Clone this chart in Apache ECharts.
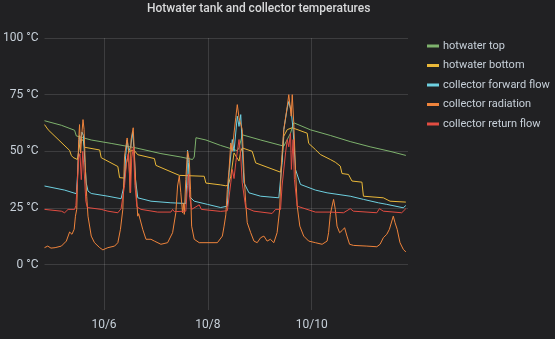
<!DOCTYPE html>
<html>
<head>
<meta charset="utf-8">
<script src="https://cdn.jsdelivr.net/npm/echarts@6/dist/echarts.min.js"></script>
<style>
  html, body { margin: 0; padding: 0; background: #212123; }
  #chart { width: 555px; height: 339px; }
</style>
</head>
<body>
<div id="chart"></div>
<script>
// Time is given in hours since 10/4 00:00, temperatures in °C.
const seriesNames = ['hotwater top', 'hotwater bottom', 'collector forward flow', 'collector radiation', 'collector return flow'];
const yTicks = [0, 25, 50, 75, 100];
const xTicks = [48, 96, 144];          // 10/6, 10/8, 10/10 at midnight
const timeRange = [20.5, 188.5];

const hotwaterTop = [
  [20.5,63.5],[28.3,61.5],[34.4,59.3],[35.2,56.8],[42.1,55.0],[51.3,53.5],[62.8,51.5],[74.3,49.0],
  [83.5,47.5],[88.9,46.4],[89.7,47.5],[90.5,56.0],[95.1,55.0],[101.9,52.6],[109.6,50.3],[110.4,51.5],
  [111.9,57.3],[120.4,55.0],[131.1,52.3],[131.9,53.0],[134.2,58.0],[135.7,62.6],[143.4,59.5],[152.6,57.0],
  [161.8,54.3],[171.0,52.0],[180.2,50.0],[187.5,48.2]
];

const hotwaterBottom = [
  [20.5,61.8],[22.2,59.5],[32.1,50.4],[32.9,48.2],[33.7,47.3],[35.7,46.4],[36.3,50.0],[37.1,55.0],
  [38.4,55.0],[39.0,51.8],[46.0,50.6],[46.7,47.2],[54.4,43.3],[55.2,38.4],[57.5,38.2],[58.2,44.0],
  [59.6,50.0],[60.5,49.5],[61.9,50.5],[63.6,48.5],[71.3,46.8],[72.0,43.8],[82.8,39.4],[94.3,39.0],
  [95.1,36.0],[101.9,35.2],[104.3,34.8],[105.4,35.0],[106.6,39.0],[108.1,49.3],[108.9,48.0],[110.4,45.7],
  [111.2,50.0],[111.9,51.5],[116.5,50.0],[118.1,44.9],[129.6,40.8],[130.3,46.0],[131.1,56.7],[132.7,59.6],
  [135.0,60.4],[141.9,58.0],[142.6,53.5],[145.7,50.8],[148.0,48.6],[152.6,46.4],[154.9,45.2],[157.2,43.5],
  [158.0,40.2],[161.0,39.8],[162.6,36.9],[167.2,36.4],[167.9,30.2],[177.1,29.5],[180.2,28.0],[187.5,27.6]
];

const forwardFlow = [
  [20.5,34.7],[29.8,32.9],[30.6,33.3],[35.2,31.3],[35.8,40.0],[36.3,52.0],[36.7,57.0],[37.2,53.5],
  [37.8,58.5],[38.5,57.0],[39.2,45.0],[39.8,36.0],[40.6,32.5],[42.1,31.4],[49.8,30.2],[55.9,29.1],
  [56.7,29.5],[57.3,35.0],[58.0,48.0],[58.7,55.0],[59.4,50.0],[60.3,52.0],[61.3,58.5],[61.9,50.0],
  [62.5,38.0],[63.6,29.5],[69.7,28.0],[78.9,27.3],[85.8,27.0],[86.4,40.0],[86.6,50.5],[87.0,45.0],
  [87.6,30.0],[89.7,28.0],[95.8,26.6],[101.9,25.2],[105.0,25.8],[105.8,40.5],[107.3,55.2],[108.1,50.0],
  [109.6,65.5],[110.4,61.0],[111.2,66.2],[111.9,52.3],[112.7,36.1],[115.0,31.7],[120.4,30.2],[128.8,29.5],
  [129.6,30.0],[130.3,45.0],[131.1,59.6],[132.7,69.2],[133.4,72.0],[134.5,67.7],[135.4,59.6],[136.5,42.0],
  [138.8,35.4],[145.7,32.9],[151.1,31.7],[161.8,30.2],[167.9,28.8],[174.8,27.3],[178.7,26.6],[186.3,25.1],
  [187.5,26.1]
];

const radiation = [
  [20.5,7.5],[22.0,8.2],[23.5,7.3],[25.4,7.5],[28.3,8.2],[30.6,10.4],[32.1,14.4],[33.2,13.4],
  [34.2,15.6],[34.8,21.4],[35.4,24.4],[36.3,55.2],[36.7,61.8],[37.2,49.3],[37.8,58.1],[38.3,64.0],
  [38.8,59.6],[39.4,42.0],[40.0,30.2],[40.6,21.4],[42.1,12.6],[43.6,9.7],[46.0,7.5],[47.5,6.5],
  [48.5,7.0],[49.8,7.5],[52.9,8.2],[54.4,9.7],[55.6,15.6],[56.7,24.4],[57.5,47.9],[58.7,55.9],
  [59.3,50.8],[60.1,31.7],[60.5,55.2],[61.5,60.4],[62.1,47.9],[62.8,33.2],[63.6,21.4],[64.0,22.5],
  [65.9,15.6],[67.4,11.2],[69.7,11.2],[71.3,10.4],[74.3,9.0],[77.4,9.7],[79.7,14.1],[81.2,22.9],
  [82.0,34.7],[82.8,39.1],[83.5,31.7],[84.3,22.9],[84.7,27.0],[85.1,22.2],[85.8,37.6],[86.6,50.1],
  [87.4,46.4],[88.0,33.0],[88.5,17.0],[89.7,11.2],[92.0,9.7],[100.4,9.7],[102.7,12.6],[103.5,17.0],
  [104.3,22.0],[105.0,33.2],[105.8,42.0],[106.6,53.7],[107.3,50.0],[108.1,58.1],[108.9,64.8],[109.6,70.6],
  [110.4,64.8],[111.2,65.5],[111.9,59.6],[112.7,40.5],[113.5,27.3],[114.2,18.5],[115.8,14.1],[117.3,10.4],
  [118.8,9.7],[120.4,11.9],[121.9,12.6],[123.4,10.4],[124.9,11.2],[126.5,9.7],[128.0,14.1],[129.2,24.4],
  [130.0,44.9],[131.1,59.6],[132.7,69.9],[133.4,75.0],[134.5,65.5],[135.0,75.0],[135.7,62.6],[136.5,42.0],
  [137.3,25.8],[138.5,17.0],[140.3,12.6],[142.6,10.4],[145.7,9.7],[146.5,9.7],[148.8,9.0],[151.1,10.4],
  [151.8,14.1],[152.6,22.2],[153.4,25.8],[154.1,28.8],[154.9,24.4],[155.7,17.0],[156.9,14.1],[158.0,15.0],
  [159.2,16.3],[160.3,12.6],[161.5,9.0],[163.3,8.5],[169.5,8.2],[174.1,7.9],[175.6,9.0],[177.1,11.9],
  [178.7,13.4],[179.9,15.6],[180.5,14.8],[181.7,21.4],[182.5,18.5],[183.5,15.6],[184.8,9.7],[186.3,6.8],
  [187.5,5.6]
];

const returnFlow = [
  [20.5,24.4],[28.3,23.6],[29.8,22.9],[31.4,24.4],[34.4,24.4],[35.0,26.0],[35.6,35.0],[36.3,47.0],
  [36.9,49.0],[37.5,37.5],[38.2,50.0],[38.9,40.0],[39.6,28.0],[40.3,25.2],[46.7,24.4],[49.8,23.6],
  [54.4,22.9],[55.9,24.7],[56.7,24.5],[57.5,35.0],[58.4,45.0],[59.2,49.0],[59.8,40.0],[60.3,32.0],
  [60.8,47.0],[61.6,52.0],[62.3,35.0],[63.2,25.5],[65.1,24.4],[66.0,25.2],[72.8,23.2],[78.9,23.2],
  [79.7,24.4],[80.5,23.4],[85.8,23.6],[86.6,35.0],[87.0,40.0],[87.6,30.0],[88.5,24.4],[92.0,26.4],
  [93.0,24.4],[101.9,23.5],[105.0,23.8],[106.6,36.1],[107.3,42.0],[108.1,38.0],[108.9,45.0],[110.4,55.2],
  [111.2,47.9],[111.9,36.1],[113.5,25.1],[117.3,23.6],[125.7,22.6],[127.3,24.4],[129.6,24.4],[130.3,34.7],
  [131.9,49.3],[132.7,55.2],[133.4,52.0],[134.2,58.1],[134.6,42.0],[135.4,55.2],[136.0,37.6],[137.3,25.8],
  [145.7,23.2],[152.6,23.2],[158.7,22.9],[161.8,24.7],[163.3,23.6],[174.1,22.9],[175.3,24.7],[177.1,23.6],
  [185.6,22.9],[187.5,24.7]
];

const colors = ['#7eb26d', '#eab839', '#6ed0e0', '#ef843c', '#e24d42'];
const seriesData = [hotwaterTop, hotwaterBottom, forwardFlow, radiation, returnFlow];

const textColor = '#c7d0d9';
const gridColor = 'rgba(255,255,255,0.13)';

const chart = echarts.init(document.getElementById('chart'), null, { renderer: 'canvas' });

chart.setOption({
  backgroundColor: '#212123',
  animation: false,
  title: {
    text: 'Hotwater tank and collector temperatures',
    left: 147,
    top: 3,
    padding: 0,
    textStyle: { color: '#d8d9da', fontSize: 12, fontWeight: 500, fontFamily: 'Roboto' }
  },
  legend: {
    orient: 'vertical',
    left: 427,
    top: 39,
    padding: 0,
    itemWidth: 12,
    itemHeight: 3,
    itemGap: 5.5,
    icon: 'rect',
    textStyle: { color: textColor, fontSize: 11, fontFamily: 'Roboto', lineHeight: 14, padding: [0, 0, 0, -1] },
    data: seriesNames
  },
  grid: { left: 43, right: 147, top: 38, bottom: 29 },
  xAxis: {
    type: 'value',
    min: timeRange[0],
    max: timeRange[1],
    axisLine: { show: false },
    axisTick: { show: false, customValues: xTicks },
    splitLine: { show: true, lineStyle: { color: gridColor, width: 1 } },
    axisLabel: {
      customValues: xTicks,
      color: textColor,
      fontSize: 12,
      fontFamily: 'Roboto',
      margin: 9,
      formatter: v => '10/' + (4 + Math.round(v / 24))
    }
  },
  yAxis: {
    type: 'value',
    min: -20,
    max: 100,
    axisLine: { show: false },
    axisTick: { show: false, customValues: yTicks },
    splitLine: { show: true, lineStyle: { color: gridColor, width: 1 } },
    axisLabel: {
      customValues: yTicks,
      color: textColor,
      fontSize: 12,
      fontFamily: 'Roboto',
      margin: 6,
      formatter: v => v + ' °C'
    }
  },
  series: seriesNames.map((name, i) => ({
    name,
    type: 'line',
    data: seriesData[i],
    showSymbol: false,
    symbol: 'none',
    itemStyle: { color: colors[i] },
    lineStyle: { color: colors[i], width: 1 }
  }))
});
</script>
</body>
</html>
